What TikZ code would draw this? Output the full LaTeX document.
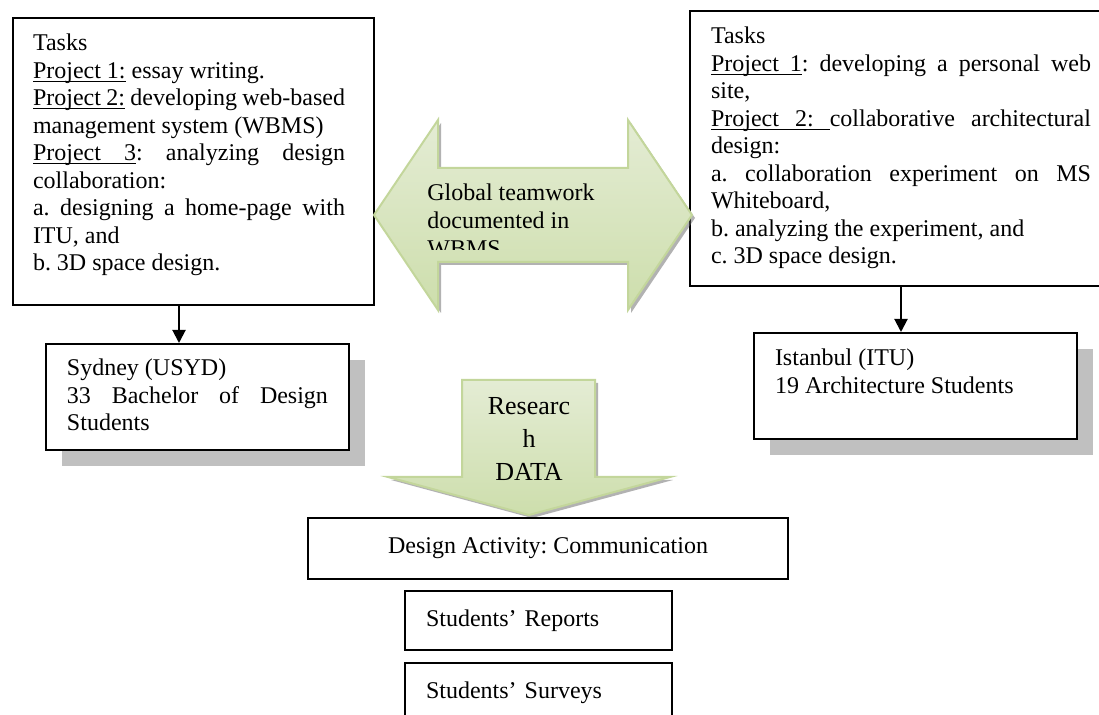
\documentclass[tikz,border=0pt]{standalone}
\usepackage{fontspec}
\setmainfont{Liberation Serif}
\usetikzlibrary{positioning}
\usetikzlibrary{calc}
\usetikzlibrary{shadows}
\usetikzlibrary{arrows.meta}

\definecolor{arrow edge}{RGB}{195,214,155}
\definecolor{arrow top}{RGB}{228,236,212}
\definecolor{arrow mid}{RGB}{248,250,243}
\definecolor{arrow bottom}{RGB}{205,222,172}
\definecolor{box shadow}{RGB}{192,192,192}

\frenchspacing
\hyphenpenalty=10000
\exhyphenpenalty=10000
\tolerance=9999

\newcommand{\boxfont}{\fontsize{12pt}{13.75pt}\selectfont}
% underlined word and underlined (stretchable) space
\newcommand{\projul}[1]{\sbox0{#1}\rlap{\vrule height -1.1pt depth 1.7pt width \wd0}\usebox0}
\newcommand{\ulsp}{\leaders\hrule height -1.1pt depth 1.7pt
    \hskip\fontdimen2\font plus \fontdimen3\font minus \fontdimen4\font\relax}

\tikzset{
    textbox/.style={draw, line width=1pt, anchor=north west,
        inner ysep=0pt, inner xsep=10.5pt, align=justify, font=\boxfont},
    site/.style={textbox, fill=white,
        drop shadow={shadow xshift=8pt, shadow yshift=-8pt,
            fill=box shadow, opacity=1}},
    databox/.style={draw, line width=1pt, inner xsep=10.5pt, font=\boxfont},
    link/.style={line width=1pt, -{Triangle[length=6.5pt, width=6.5pt]}},
    big arrow/.style={draw=arrow edge, line width=1pt,
        top color=arrow top, middle color=arrow mid, bottom color=arrow bottom,
        drop shadow={shadow xshift=1.5pt, shadow yshift=-1.5pt,
            fill=black!60, opacity=0.5}},
}

\begin{document}
\begin{tikzpicture}[x=0.5pt, y=-0.5pt]

\path [use as bounding box, clip] (0,0) rectangle (1099,715);

% Sydney side

\node [textbox, inner xsep=10pt, text width=160.5pt] (sydney tasks) at (12,17)
    {\rightskip=4.5pt
        \rule{0pt}{16.5pt}Tasks\newline
        \projul{Project}\ulsp\projul{1:} essay writing.\newline
        \projul{Project}\ulsp\projul{2:} developing web-based\linebreak
        management system (WBMS)\newline
        \projul{Project}\ulsp\projul{3}: analyzing design\linebreak
        collaboration:\newline
        a. designing a home-page with\linebreak
        ITU, and\newline
        b. 3D space design.\rule[-17pt]{0pt}{0pt}\par
    };

\node [site, text width=130.5pt] (sydney) at (45,343)
    {
        \rule{0pt}{16pt}Sydney (USYD)\newline
        33 Bachelor of Design Students\rule[-9.5pt]{0pt}{0pt}
    };

% Istanbul side

\node [textbox, text width=190pt] (istanbul tasks) at (689,10)
    {
        \rule{0pt}{16.5pt}Tasks\newline
        \projul{Project}\ulsp\projul{1}: developing a personal web\linebreak
        site,\newline
        \projul{Project}\ulsp\projul{2:}\ulsp collaborative architectural\linebreak
        design:\newline
        a. collaboration experiment on MS\linebreak
        Whiteboard,\newline
        b. analyzing the experiment, and\newline
        c. 3D space design.\rule[-11pt]{0pt}{0pt}
    };

\node [site, text width=140.5pt] (istanbul) at (753,332)
    {
        \rule{0pt}{16.5pt}Istanbul (ITU)\newline
        19 Architecture Students\rule[-23pt]{0pt}{0pt}
    };

\draw [link] ([xshift=-7.25pt]sydney tasks.south)
    -- ([xshift=-7.25pt]sydney tasks.south |- sydney.north);
\draw [link] (istanbul tasks.south) -- (istanbul tasks.south |- istanbul.north);

% Global teamwork

\path [big arrow] (374,215) -- (438,120) -- (438,168) -- (628,168)
    -- (628,120) -- (692,215) -- (628,310) -- (628,262) -- (438,262)
    -- (438,310) -- cycle;
\begin{scope}
    \clip (374,120) rectangle (692,250);
    \node [align=left, anchor=north west, inner sep=0pt,
        font=\fontsize{12pt}{14pt}\selectfont] (teamwork) at (427,183)
        {Global teamwork\\documented in\\WBMS};
\end{scope}

% Research data

\path [big arrow] (462,380) -- (595,380) -- (595,477) -- (670,477)
    -- (529,515) -- (388,477) -- (462,477) -- cycle;
\node [align=center, font=\fontsize{13pt}{16.5pt}\selectfont] (research)
    at (529,439) {Researc\\h\\DATA};

\node [databox, minimum width=240pt, minimum height=30.5pt] (activity)
    at (548,548.5) {Design Activity: Communication};
\node [databox, anchor=north west, text width=112.5pt, minimum height=29.5pt]
    (reports) at (404,590) {Students' Reports};
\node [databox, anchor=north west, text width=112.5pt, minimum height=29.5pt]
    (surveys) at (404,662) {Students' Surveys};

\end{tikzpicture}
\end{document}
